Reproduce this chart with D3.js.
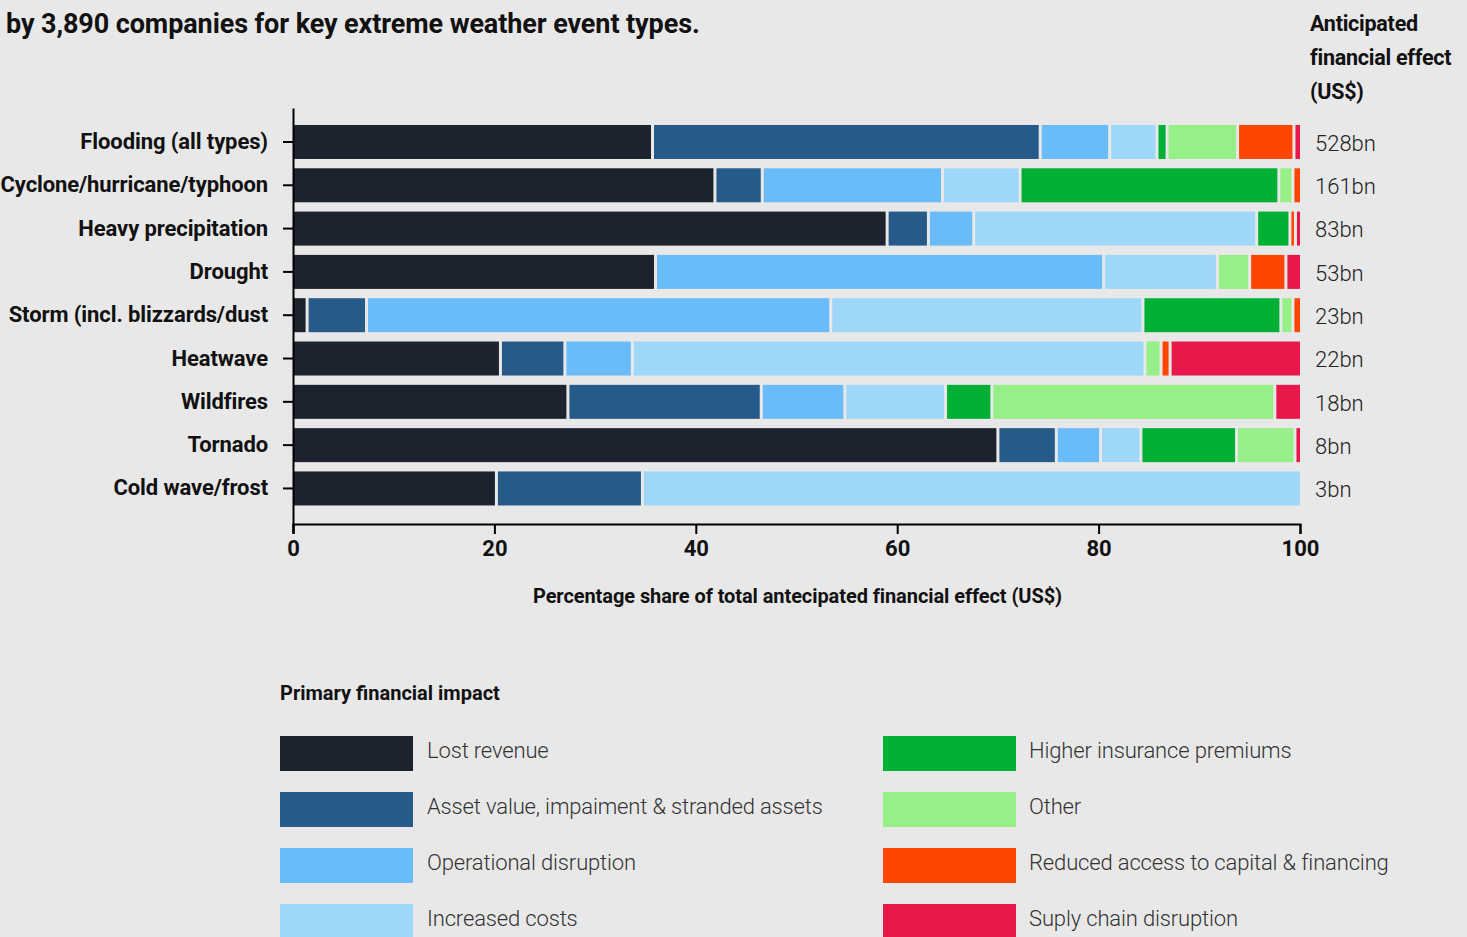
<!DOCTYPE html>
<html>
<head>
<meta charset="utf-8">
<script src="https://cdn.jsdelivr.net/npm/d3@7"></script>
<style>
  html, body { margin: 0; padding: 0; background: #e8e8e8; }
  svg { display: block; font-family: Roboto, "Noto Sans", sans-serif; }
</style>
</head>
<body>
<svg id="chart" width="1467" height="937"></svg>
<script>
// ---------- DATA ----------
const categories = [
  "Flooding (all types)",
  "Cyclone/hurricane/typhoon",
  "Heavy precipitation",
  "Drought",
  "Storm (incl. blizzards/dust",
  "Heatwave",
  "Wildfires",
  "Tornado",
  "Cold wave/frost"
];
const totals = ["528bn", "161bn", "83bn", "53bn", "23bn", "22bn", "18bn", "8bn", "3bn"];

const seriesNames = [
  "Lost revenue",
  "Asset value, impaiment & stranded assets",
  "Operational disruption",
  "Increased costs",
  "Higher insurance premiums",
  "Other",
  "Reduced access to capital & financing",
  "Suply chain disruption"
];
const seriesColors = ["#1d232e", "#255a89", "#6abcf8", "#9fd7f9", "#00b035", "#97ef87", "#ff4600", "#e8184b"];

// percentage share per category, one array per series (order = categories)
const lostRevenue      = [35.7, 41.9, 59.0, 36.0,  1.4, 20.6, 27.3, 70.0, 20.2];
const assetValue       = [38.5,  4.7,  4.1,  0.0,  5.9,  6.4, 19.2,  5.8, 14.5];
const operational      = [ 6.9, 17.9,  4.5, 44.5, 46.1,  6.7,  8.3,  4.4,  0.0];
const increasedCosts   = [ 4.7,  7.7, 28.1, 11.3, 31.0, 50.9, 10.0,  4.0, 65.3];
const insurance        = [ 1.0, 25.7,  3.3,  0.0, 13.7,  0.0,  4.6,  9.5,  0.0];
const other            = [ 7.0,  1.4,  0.0,  3.2,  1.2,  1.6, 28.1,  5.8,  0.0];
const capitalAccess    = [ 5.6,  0.7,  0.55, 3.6,  0.7,  0.9,  0.0,  0.0,  0.0];
const supplyChain      = [ 0.6,  0.0,  0.45, 1.4,  0.0, 12.9,  2.5,  0.5,  0.0];

const xTicks = [0, 20, 40, 60, 80, 100];

// ---------- BUILD ----------
const seriesValues = [lostRevenue, assetValue, operational, increasedCosts, insurance, other, capitalAccess, supplyChain];
const keys = seriesNames;
const rows = categories.map((c, i) => {
  const r = { category: c, total: totals[i] };
  keys.forEach((k, j) => r[k] = seriesValues[j][i]);
  return r;
});

const svg = d3.select("#chart");
const BOLD = "#111";

const x = d3.scaleLinear().domain([0, 100]).range([293, 1300]);
const y = d3.scaleBand().domain(categories).range([108, 532])
  .paddingInner(0.215).paddingOuter(0.5025).align(0.39);
const color = d3.scaleOrdinal().domain(keys).range(seriesColors);

const stacked = d3.stack().keys(keys)(rows);

const gap = 3;
const barG = svg.append("g");
stacked.forEach(layer => {
  barG.append("g").attr("fill", color(layer.key))
    .selectAll("rect")
    .data(layer.filter(d => d[1] - d[0] > 0))
    .join("rect")
    .attr("x", d => x(d[0]) + (d[0] > 0.001 ? gap / 2 : 0))
    .attr("width", d => {
      const left = x(d[0]) + (d[0] > 0.001 ? gap / 2 : 0);
      const right = x(d[1]) - (d[1] < 99.9 ? gap / 2 : 0);
      return Math.max(0.8, right - left);
    })
    .attr("y", d => y(d.data.category))
    .attr("height", y.bandwidth());
});

// x axis
const xAxis = svg.append("g")
  .attr("transform", "translate(0,524)")
  .call(d3.axisBottom(x).tickValues(xTicks).tickSize(10).tickSizeOuter(10).tickPadding(6));
xAxis.select(".domain").attr("stroke", "#000").attr("stroke-width", 2);
xAxis.selectAll(".tick line").attr("stroke", "#000").attr("stroke-width", 2);
xAxis.selectAll(".tick text")
  .attr("font-family", "Roboto").attr("font-weight", 700).attr("font-size", 22).attr("fill", BOLD);

// y axis
const yAxis = svg.append("g")
  .attr("transform", "translate(293,0)")
  .call(d3.axisLeft(y).tickSize(10).tickSizeOuter(0).tickPadding(15));
yAxis.select(".domain").attr("stroke", "#000").attr("stroke-width", 2);
yAxis.selectAll(".tick line").attr("stroke", "#000").attr("stroke-width", 2);
yAxis.selectAll(".tick text")
  .attr("font-family", "Roboto").attr("font-weight", 700).attr("font-size", 22)
  .attr("fill", BOLD).attr("letter-spacing", -0.1);

// right totals
svg.append("g").selectAll("text")
  .data(rows)
  .join("text")
  .attr("x", 1315)
  .attr("y", d => y(d.category) + y.bandwidth() / 2 + 1)
  .attr("dy", "0.35em")
  .attr("font-family", "Roboto").attr("font-weight", 300).attr("font-size", 22)
  .attr("fill", "#222")
  .text(d => d.total);

// titles
svg.append("text")
  .attr("x", 6).attr("y", 33)
  .attr("font-family", "Roboto").attr("font-weight", 700).attr("font-size", 27)
  .attr("fill", BOLD).attr("letter-spacing", -0.1)
  .text("by 3,890 companies for key extreme weather event types.");

const hdr = ["Anticipated", "financial effect", "(US$)"];
svg.append("g").selectAll("text").data(hdr).join("text")
  .attr("x", 1310).attr("y", (d, i) => 31 + i * 34)
  .attr("font-family", "Roboto").attr("font-weight", 700).attr("font-size", 21.5)
  .attr("fill", BOLD).attr("letter-spacing", -0.25)
  .text(d => d);

svg.append("text")
  .attr("x", (x(0) + x(100)) / 2 + 1).attr("y", 603)
  .attr("text-anchor", "middle")
  .attr("font-family", "Roboto").attr("font-weight", 700).attr("font-size", 20)
  .attr("fill", BOLD).attr("letter-spacing", -0.08)
  .text("Percentage share of total antecipated financial effect (US$)");

// legend
svg.append("text")
  .attr("x", 280).attr("y", 700)
  .attr("font-family", "Roboto").attr("font-weight", 700).attr("font-size", 20)
  .attr("fill", BOLD)
  .text("Primary financial impact");

const legend = svg.append("g");
const legItems = legend.selectAll("g").data(keys).join("g")
  .attr("transform", (d, i) => {
    const col = Math.floor(i / 4), row = i % 4;
    return `translate(${col === 0 ? 280 : 883},${736 + row * 56})`;
  });
legItems.append("rect")
  .attr("width", 133).attr("height", 35)
  .attr("fill", d => color(d));
legItems.append("text")
  .attr("x", (d, i) => i < 4 ? 147 : 146).attr("y", 14.5)
  .attr("dy", "0.35em")
  .attr("font-family", "Roboto").attr("font-weight", 300).attr("font-size", 22)
  .attr("fill", "#333").attr("letter-spacing", -0.15)
  .text(d => d);
</script>
</body>
</html>
